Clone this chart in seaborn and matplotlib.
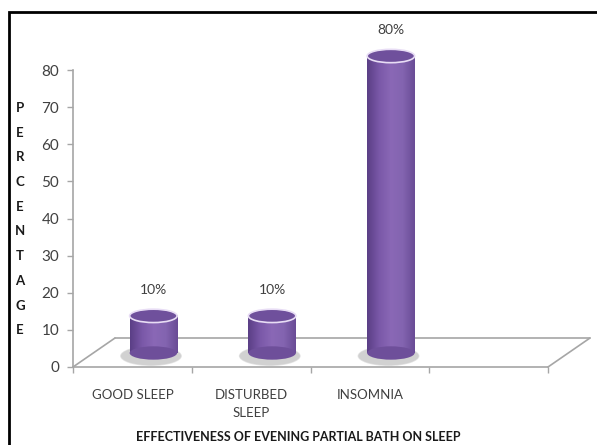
import numpy as np
import pandas as pd
import seaborn as sns
import matplotlib.pyplot as plt
import matplotlib.transforms as mtransforms
from matplotlib.patches import Ellipse, Rectangle
from matplotlib.colors import LinearSegmentedColormap

sns.set_theme(style="white")
plt.rcParams['font.family'] = ['Lato', 'DejaVu Sans']

categories = ["GOOD SLEEP", "DISTURBED\nSLEEP", "INSOMNIA"]
percent = [10, 10, 80]
value_labels = ["10%", "10%", "80%"]
y_letters = list("PERCENTAGE")

df = pd.DataFrame({"cat": categories, "pct": percent})

fig = plt.figure(figsize=(5.97, 4.45), dpi=100)
ax = fig.add_axes([73 / 597, 78 / 445, 475 / 597, 297 / 445])

sns.barplot(data=df, x="cat", y="pct", color="#7D5BA6", width=0.4,
            saturation=1, ax=ax, zorder=3)

ax.set_xlim(-0.5, 3.5)
ax.set_ylim(0, 80)
ax.set_yticks(range(0, 81, 10))
ax.set_xlabel("")
ax.set_ylabel("")

# pseudo-3d: cylinders sit halfway back on the floor
bar_tr = ax.transData + mtransforms.ScaledTranslation(0.21, 0.14, fig.dpi_scale_trans)
floor_tr = ax.transData + mtransforms.ScaledTranslation(0.42, 0.29, fig.dpi_scale_trans)

# floor (back edge + sides)
ax.plot([-0.5, 3.5], [0, 0], color="#A6A6A6", lw=1.2, transform=floor_tr, clip_on=False, zorder=1)
fig.canvas.draw()
for xe in (-0.5, 3.5):
    p0 = ax.transData.transform((xe, 0))
    p1 = floor_tr.transform((xe, 0))
    fig.add_artist(plt.Line2D([p0[0] / 597, p1[0] / 597], [p0[1] / 445, p1[1] / 445],
                              color="#A6A6A6", lw=1.2, zorder=1))

grad = LinearSegmentedColormap.from_list(
    "cyl", ["#5B3F86", "#7A58A8", "#8A68B6", "#8364B0", "#6A4C96"])
ell_h = 3.6
for bar, val, lab in zip(ax.patches, percent, value_labels):
    x0 = bar.get_x()
    w = bar.get_width()
    xc = x0 + w / 2
    bar.set_transform(bar_tr)
    bar.set_clip_on(False)
    bar.set_edgecolor("none")
    sh = Ellipse((xc - 0.02, -0.8), w * 1.3, ell_h * 1.5, facecolor="#8C8C8C", alpha=0.4,
                 transform=bar_tr, clip_on=False, zorder=2)
    ax.add_patch(sh)
    im = ax.imshow(np.linspace(0, 1, 64).reshape(1, -1), cmap=grad, aspect="auto",
                   extent=[x0, x0 + w, 0, val], transform=bar_tr, zorder=3,
                   interpolation="bilinear", clip_on=False)
    im.set_clip_path(bar)
    bot = Ellipse((xc, 0), w, ell_h, facecolor="#6E4F9A", edgecolor="none",
                  transform=bar_tr, clip_on=False, zorder=3)
    ax.add_patch(bot)
    top = Ellipse((xc, val), w, ell_h, facecolor="#6F509C", edgecolor="#E8DDF5", lw=1.2,
                  transform=bar_tr, clip_on=False, zorder=4)
    ax.add_patch(top)
    ax.annotate(lab, (xc, val), xycoords=bar_tr, xytext=(0, 26), textcoords="offset pixels",
                ha="center", va="center", fontsize=10, color="#404040", annotation_clip=False)

ax.set_xlim(-0.5, 3.5)
ax.set_ylim(0, 80)

for s in ("top", "right"):
    ax.spines[s].set_visible(False)
for s in ("left", "bottom"):
    ax.spines[s].set_color("#A6A6A6")
    ax.spines[s].set_linewidth(1.2)

ax.set_xticks([-0.5, 0.5, 1.5, 2.5, 3.5], minor=True)
ax.tick_params(axis="x", which="minor", length=4, color="#A6A6A6", bottom=True, width=1)
ax.tick_params(axis="x", which="major", length=0, pad=16, labelsize=9.5, labelcolor="#404040")
ax.tick_params(axis="y", length=4, color="#A6A6A6", left=True, width=1,
               labelsize=11, labelcolor="#404040", pad=6)
for t in ax.get_xticklabels():
    t.set_linespacing(1.55)
    t.set_multialignment("center")

for i, ch in enumerate(y_letters):
    fig.text(20 / 597, 1 - (108 + i * 24.7) / 445, ch, ha="center", va="center",
             fontsize=9.5, fontweight="bold", color="#1a1a1a")

fig.text(298 / 597, 1 - 437 / 445, "EFFECTIVENESS OF EVENING PARTIAL BATH ON SLEEP",
         ha="center", va="center", fontsize=9, fontweight="bold", color="#1a1a1a")

fig.add_artist(Rectangle((9 / 597, -0.1), 1.2, 1 - 12 / 445 + 0.1, fill=False,
                         edgecolor="black", lw=2, transform=fig.transFigure))

fig.savefig("out.png", dpi=100)
